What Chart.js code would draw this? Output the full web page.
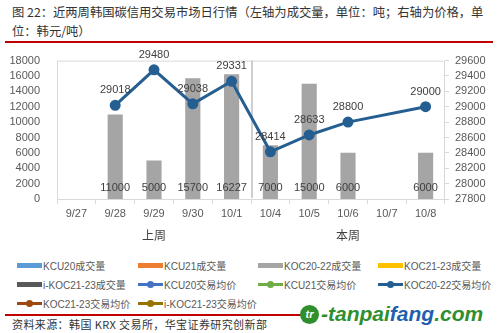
<!DOCTYPE html>
<html>
<head>
<meta charset="utf-8">
<script src="https://cdn.jsdelivr.net/npm/chart.js@4/dist/chart.umd.min.js"></script>
<style>
  body { margin: 0; background: #fff; }
  #wrap { position: relative; width: 500px; height: 333px; overflow: hidden; font-family: "Noto Sans CJK SC", "Liberation Sans", sans-serif; }
  #title { position: absolute; left: 12px; top: 3px; font-size: 12.3px; line-height: 19px; color: #333; white-space: nowrap; }
  .redline { position: absolute; height: 2px; background: #C00000; }
  #chartBox { position: absolute; left: 0; top: 45px; width: 500px; height: 205px; }
  #legend { position: absolute; left: 17px; top: 257px; width: 480px; display: grid; grid-template-columns: 121px 120px 120px 120px; row-gap: 3px; }
  .item { display: flex; align-items: center; height: 16px; font-size: 10px; color: #595959; font-family: "Liberation Sans", "Noto Sans CJK SC", sans-serif; }
  .sw { position: relative; width: 25px; height: 16px; margin-right: 1px; flex: none; }
  .sw .bar { position: absolute; left: 0; top: 6px; width: 25px; height: 5px; }
  .sw .ln { position: absolute; left: 0; top: 7px; width: 25px; height: 3px; }
  .sw .dot { position: absolute; left: 9px; top: 5px; width: 7px; height: 7px; border-radius: 50%; }
  #source { position: absolute; left: 12px; top: 316px; font-size: 11px; color: #333; letter-spacing: 0.4px; }
  #mark { position: absolute; left: 300px; top: 302px; height: 24px; display: flex; align-items: center; font-family: "Liberation Sans", sans-serif; font-weight: bold; font-style: italic; font-size: 21px; }
  #mark .logo { width: 19px; height: 19px; border-radius: 50%; background: #2f8f2f; color: #fff; font-size: 11px; display: flex; align-items: center; justify-content: center; margin-right: 2px; }
</style>
</head>
<body>
<div id="wrap">
  <div id="title">图 22：近两周韩国碳信用交易市场日行情（左轴为成交量，单位：吨；右轴为价格，单<br>位：韩元/吨）</div>
  <div class="redline" style="left:5px; top:41px; width:488px;"></div>
  <div id="chartBox"><canvas id="c"></canvas></div>
  <div id="legend"></div>
  <div class="redline" style="left:5px; top:314px; width:298px;"></div>
  <div id="mark"><div class="logo">tr</div><span style="color:#2f8f2f">-tanpai</span><span style="color:#1f5fae">fang</span><span style="color:#2f8f2f">.com</span></div>
  <div id="source">资料来源：韩国 KRX 交易所，华宝证券研究创新部</div>
</div>
<script>
// trading days over the two weeks
const days = ['9/27', '9/28', '9/29', '9/30', '10/1', '10/4', '10/5', '10/6', '10/7', '10/8'];
const weeks = [{ label: '上周', at: '9/29' }, { label: '本周', at: '10/6' }];

// KOC20-22 volume (t) and average price (KRW/t); other products had no trades
const koc2022Volume = [null, 11000, 5000, 15700, 16227, 7000, 15000, 6000, null, 6000];
const koc2022Price = [null, 29018, 29480, 29038, 29331, 28414, 28633, 28800, null, 29000];
const empty = days.map(() => null);

const volTicks = { min: 0, max: 18000, step: 2000 };
const priceTicks = { min: 27800, max: 29600, step: 200 };

const barSeries = [
  { label: 'KCU20成交量', color: '#5B9BD5', data: empty },
  { label: 'KCU21成交量', color: '#ED7D31', data: empty },
  { label: 'KOC20-22成交量', color: '#A5A5A5', data: koc2022Volume },
  { label: 'KOC21-23成交量', color: '#FFC000', data: empty },
  { label: 'i-KOC21-23成交量', color: '#595959', data: empty }
];
const lineSeries = [
  { label: 'KCU20交易均价', color: '#4472C4', data: empty },
  { label: 'KCU21交易均价', color: '#70AD47', data: empty },
  { label: 'KOC20-22交易均价', color: '#255E91', data: koc2022Price },
  { label: 'KOC21-23交易均价', color: '#9E480E', data: empty },
  { label: 'i-KOC21-23交易均价', color: '#997300', data: empty }
];

const datasets = [
  ...barSeries.map(s => ({
    type: 'bar', label: s.label, data: s.data, yAxisID: 'y',
    backgroundColor: s.color, grouped: false,
    barPercentage: 0.39, categoryPercentage: 1, order: 2
  })),
  ...lineSeries.map(s => ({
    type: 'line', label: s.label, data: s.data, yAxisID: 'y1',
    borderColor: s.color, backgroundColor: s.color, borderWidth: 3,
    pointRadius: 4, pointHoverRadius: 4, spanGaps: true, order: 1
  }))
];

// plot frame, week divider and week captions under the axis
const frame = {
  id: 'frame',
  beforeDatasetsDraw(chart) {
    const { ctx, chartArea: a, scales: { x } } = chart;
    ctx.save();
    ctx.strokeStyle = '#D9D9D9';
    ctx.lineWidth = 1;
    ctx.strokeRect(a.left + 0.5, a.top + 0.5, a.width - 1, a.height);
    const split = (x.getPixelForValue(4) + x.getPixelForValue(5)) / 2;
    ctx.strokeStyle = '#BFBFBF';
    ctx.lineWidth = 1.5;
    ctx.beginPath();
    ctx.moveTo(split + 1, a.top);
    ctx.lineTo(split + 1, a.bottom - 1);
    ctx.stroke();
    ctx.restore();
  },
  afterDraw(chart) {
    const { ctx, chartArea: a, scales: { x } } = chart;
    ctx.save();
    ctx.fillStyle = '#404040';
    ctx.font = '12px "Noto Sans CJK SC", sans-serif';
    ctx.textAlign = 'center';
    ctx.textBaseline = 'middle';
    weeks.forEach(w => ctx.fillText(w.label, x.getPixelForValue(days.indexOf(w.at)), a.bottom + 36));
    ctx.restore();
  }
};

// value labels: volumes at bar foot, prices above markers
const valueLabels = {
  id: 'valueLabels',
  afterDatasetsDraw(chart) {
    const { ctx, chartArea: a } = chart;
    ctx.save();
    ctx.font = '11px "Liberation Sans", sans-serif';
    ctx.fillStyle = '#404040';
    ctx.textAlign = 'center';
    ctx.textBaseline = 'middle';
    chart.data.datasets.forEach((ds, i) => {
      const meta = chart.getDatasetMeta(i);
      ds.data.forEach((v, j) => {
        if (v == null) return;
        const el = meta.data[j];
        if (ds.type === 'bar') ctx.fillText(String(v), el.x, a.bottom - 11);
        else ctx.fillText(String(v), el.x, el.y - 15);
      });
    });
    ctx.restore();
  }
};

const tickFont = { family: '"Liberation Sans", sans-serif', size: 11 };
const plain = v => String(v);

new Chart('c', {
  data: { labels: days, datasets },
  plugins: [frame, valueLabels],
  options: {
    responsive: true,
    maintainAspectRatio: false,
    animation: false,
    layout: { padding: { top: 13 } },
    plugins: { legend: { display: false }, tooltip: { enabled: false } },
    scales: {
      x: {
        grid: { display: true, drawOnChartArea: false, offset: true, tickLength: 5, color: '#D9D9D9' },
        border: { color: '#D9D9D9' },
        ticks: { color: '#595959', font: tickFont, padding: 3, maxRotation: 0, autoSkip: false },
        afterFit(s) { s.height = 51; }
      },
      y: {
        position: 'left',
        min: volTicks.min, max: volTicks.max,
        grid: { display: false },
        border: { display: false },
        ticks: { stepSize: volTicks.step, color: '#595959', font: tickFont, padding: 9, autoSkip: false, callback: plain },
        afterFit(s) { s.width = 57; }
      },
      y1: {
        position: 'right',
        min: priceTicks.min, max: priceTicks.max,
        grid: { display: true, drawOnChartArea: false, tickLength: 4, color: '#D9D9D9' },
        border: { display: false },
        ticks: { stepSize: priceTicks.step, color: '#595959', font: tickFont, padding: 6, autoSkip: false, callback: plain },
        afterFit(s) { s.width = 55; }
      }
    }
  }
});

// legend in four columns, bars first then price lines
const legend = document.getElementById('legend');
barSeries.forEach(s => {
  legend.insertAdjacentHTML('beforeend',
    `<div class="item"><div class="sw"><div class="bar" style="background:${s.color}"></div></div>${s.label}</div>`);
});
lineSeries.forEach(s => {
  legend.insertAdjacentHTML('beforeend',
    `<div class="item"><div class="sw"><div class="ln" style="background:${s.color}"></div><div class="dot" style="background:${s.color}"></div></div>${s.label}</div>`);
});
</script>
</body>
</html>
